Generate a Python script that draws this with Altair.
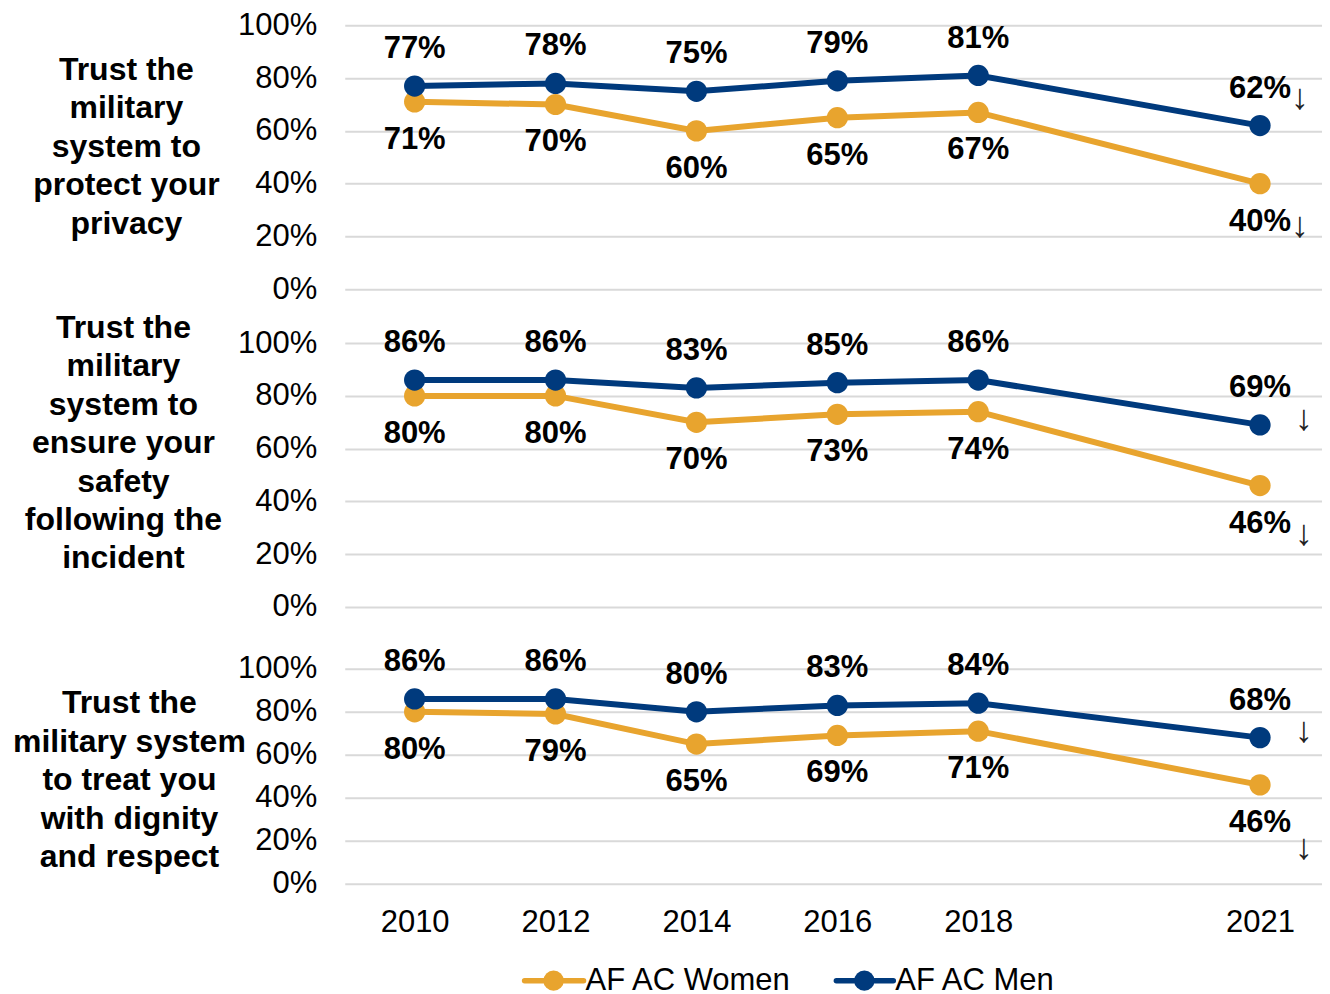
import altair as alt
import pandas as pd

# ---- data ----
years = ["2010", "2012", "2014", "2016", "2018", "2021"]
x_domain = ["2010", "2012", "2014", "2016", "2018", "2020", "2021"]
series = ["AF AC Women", "AF AC Men"]
colors = ["#E8A42E", "#003A7D"]

panel_titles = [
    ["Trust the", "military", "system to", "protect your", "privacy"],
    ["Trust the", "military", "system to", "ensure your", "safety", "following the", "incident"],
    ["Trust the", "military system", "to treat you", "with dignity", "and respect"],
]
men = [
    [77, 78, 75, 79, 81, 62],
    [86, 86, 83, 85, 86, 69],
    [86, 86, 80, 83, 84, 68],
]
women = [
    [71, 70, 60, 65, 67, 40],
    [80, 80, 70, 73, 74, 46],
    [80, 79, 65, 69, 71, 46],
]
arrow_text = "\u2193"

# ---- layout / style ----
FONT = "Liberation Sans"
heights = [264, 264, 223]
ymax = [100, 100, 100 * 223 / 215]
title_x = [-219, -222, -216]
title_y = [44, -16, 42]
arrow_dx = [40, 44, 44]
arrow_dy_men = [-28, -6, -7]
arrow_dy_women = [42, 48, 63]

# legend layout (pixels, relative to the bottom panel's plot origin)
legend_y = 320
legend_line_x = [(180, 239), (492, 549)]
legend_dot_x = [209, 520]
legend_text_x = [241, 551]


def panel(i):
    rows = []
    for yr, m, w in zip(years, men[i], women[i]):
        rows.append({"year": yr, "series": "AF AC Women", "value": w})
        rows.append({"year": yr, "series": "AF AC Men", "value": m})
    df = pd.DataFrame(rows)
    df["label"] = df["value"].astype(str) + "%"
    df["arrow"] = arrow_text

    if i == 2:
        xaxis = alt.Axis(title=None, labelExpr="datum.value == '2020' ? '' : datum.value",
                         labelFontSize=31, labelColor="#000", labelFont=FONT,
                         ticks=False, domain=False, grid=False, labelPadding=24,
                         labelAngle=0)
    else:
        xaxis = None

    x = alt.X("year:N",
              scale=alt.Scale(type="point", domain=x_domain, padding=0.468, align=0.53),
              axis=xaxis)
    y = alt.Y("value:Q",
              scale=alt.Scale(domain=[0, ymax[i]], nice=False, zero=True),
              axis=alt.Axis(values=[0, 20, 40, 60, 80, 100],
                            labelExpr="datum.value + '%'",
                            grid=True, gridColor="#d9d9d9", gridWidth=2,
                            domain=False, ticks=False, labelPadding=28,
                            labelFontSize=31, labelColor="#000", labelFont=FONT,
                            title=panel_titles[i], titleAngle=0,
                            titleX=title_x[i], titleY=title_y[i],
                            titleAlign="center", titleBaseline="middle",
                            titleFontSize=32, titleFontWeight="bold",
                            titleLineHeight=38.5, titleColor="#000", titleFont=FONT))

    base = alt.Chart(df)
    line = base.mark_line(strokeWidth=6).encode(
        x=x, y=y,
        stroke=alt.Stroke("series:N", scale=alt.Scale(domain=series, range=colors),
                          legend=None),
        order=alt.Order("year:N"),
    )
    pts = base.mark_circle(size=452, opacity=1).encode(
        x=x, y=y,
        fill=alt.Fill("series:N", scale=alt.Scale(domain=series, range=colors),
                      legend=None),
    )
    lab_men = base.transform_filter(alt.datum.series == "AF AC Men").mark_text(
        font=FONT, fontSize=31, fontWeight="bold", color="#000", dy=-37,
        baseline="middle", align="center").encode(x=x, y=y, text="label:N")
    lab_women = base.transform_filter(alt.datum.series == "AF AC Women").mark_text(
        font=FONT, fontSize=31, fontWeight="bold", color="#000", dy=38,
        baseline="middle", align="center").encode(x=x, y=y, text="label:N")
    arr_men = base.transform_filter(
        (alt.datum.series == "AF AC Men") & (alt.datum.year == "2021")).mark_text(
        font=FONT, fontSize=36, color="#222", dx=arrow_dx[i], dy=arrow_dy_men[i],
        baseline="middle", align="center").encode(x=x, y=y, text="arrow:N")
    arr_women = base.transform_filter(
        (alt.datum.series == "AF AC Women") & (alt.datum.year == "2021")).mark_text(
        font=FONT, fontSize=36, color="#222", dx=arrow_dx[i], dy=arrow_dy_women[i],
        baseline="middle", align="center").encode(x=x, y=y, text="arrow:N")

    layers = [line, pts, lab_men, lab_women, arr_men, arr_women]

    if i == 2:
        leg = alt.Chart(pd.DataFrame({"series": series}))
        for k, name in enumerate(series):
            sel = leg.transform_filter(alt.datum.series == name)
            layers.append(sel.mark_rule(strokeWidth=5.5, strokeCap="round").encode(
                x=alt.value(legend_line_x[k][0]), x2=alt.value(legend_line_x[k][1]),
                y=alt.value(legend_y), color=alt.value(colors[k])))
            layers.append(sel.mark_circle(size=415, opacity=1).encode(
                x=alt.value(legend_dot_x[k]), y=alt.value(legend_y),
                color=alt.value(colors[k])))
            layers.append(sel.mark_text(font=FONT, fontSize=31, color="#000",
                                        align="left", baseline="middle").encode(
                x=alt.value(legend_text_x[k]), y=alt.value(legend_y),
                text="series:N"))

    return alt.layer(*layers).properties(width=978, height=heights[i])


chart = alt.vconcat(panel(0), panel(1), panel(2), spacing=54, bounds="flush").resolve_scale(
    fill="shared", stroke="shared"
).properties(
    padding={"left": 4, "top": 1, "right": 0, "bottom": 0},
).configure(font=FONT).configure_view(strokeWidth=0)

chart.save("out.html", embed_options={"renderer": "svg", "actions": False})
